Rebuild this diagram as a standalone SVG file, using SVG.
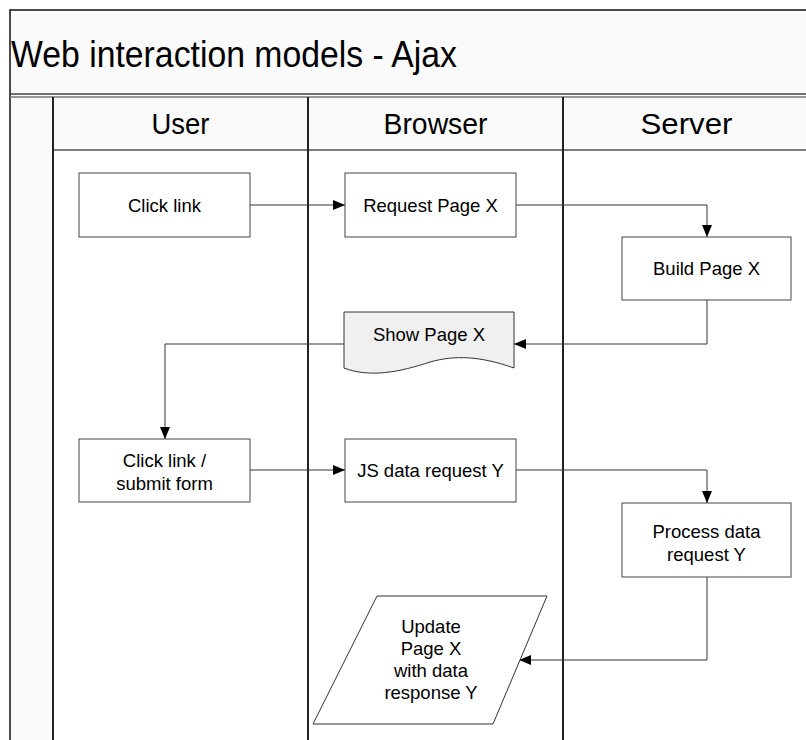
<svg xmlns="http://www.w3.org/2000/svg" width="806" height="740" viewBox="0 0 806 740">
<defs>
<marker id="arr" markerWidth="12" markerHeight="10" refX="12" refY="5" orient="auto" markerUnits="userSpaceOnUse">
<path d="M0,0 L12,5 L0,10 Z" fill="#000"/>
</marker>
<style>
.t{font-family:"Liberation Sans",Arial,sans-serif;fill:#000;text-anchor:middle}
.box{fill:#fff;stroke:#444;stroke-width:1}
.conn{fill:none;stroke:#333;stroke-width:1;marker-end:url(#arr)}
.lane{stroke:#222;stroke-width:2}
</style>
</defs>
<rect width="806" height="740" fill="#fff"/>
<g id="frame">
<rect x="10" y="10" width="806" height="740" fill="#fafafa" stroke="#111" stroke-width="1.5"/>
<rect x="53" y="150" width="763" height="600" fill="#fff"/>
<text x="11" y="67" font-family="Liberation Sans,Arial,sans-serif" font-size="37" textLength="446" lengthAdjust="spacingAndGlyphs">Web interaction models - Ajax</text>
<line x1="10" y1="94" x2="806" y2="94" stroke="#444" stroke-width="1.5"/>
<line x1="10" y1="97" x2="806" y2="97" stroke="#777" stroke-width="1.5"/>
<line x1="53" y1="150" x2="806" y2="150" stroke="#555" stroke-width="1.5"/>
<line class="lane" x1="53" y1="97" x2="53" y2="740"/>
<line class="lane" x1="308" y1="97" x2="308" y2="740"/>
<line class="lane" x1="563" y1="97" x2="563" y2="740"/>
<text class="t" x="180.5" y="134" font-size="29" textLength="58" lengthAdjust="spacingAndGlyphs">User</text>
<text class="t" x="435.5" y="134" font-size="29" textLength="104" lengthAdjust="spacingAndGlyphs">Browser</text>
<text class="t" x="686.5" y="134" font-size="29" textLength="92" lengthAdjust="spacingAndGlyphs">Server</text>
</g>
<g id="connectors">
<path class="conn" d="M250,205 H345"/>
<path class="conn" d="M516,205 H707 V237"/>
<path class="conn" d="M707,300 V344 H514"/>
<path class="conn" d="M344,344 H165 V439"/>
<path class="conn" d="M250,470 H345"/>
<path class="conn" d="M516,470 H707 V503"/>
<path class="conn" d="M707,577 V660 H519"/>
</g>
<g id="click-link">
<rect class="box" x="79" y="173" width="171" height="64"/>
<text class="t" x="164.5" y="211.5" font-size="18.5">Click link</text>
</g>
<g id="request-page">
<rect class="box" x="345" y="173" width="171" height="64"/>
<text class="t" x="430.5" y="211.5" font-size="18.5">Request Page X</text>
</g>
<g id="build-page">
<rect class="box" x="622" y="237" width="169" height="63"/>
<text class="t" x="706.5" y="275" font-size="18.5">Build Page X</text>
</g>
<g id="show-page">
<path d="M344,312 H514 V368 C480,356 455,355 430,362 C400,372 370,378 344,368 Z" fill="#f0f0f0" stroke="#333" stroke-width="1"/>
<text class="t" x="429" y="341" font-size="18.5">Show Page X</text>
</g>
<g id="click-submit">
<rect class="box" x="79" y="439" width="171" height="63"/>
<text class="t" x="164.5" y="467" font-size="18.5">Click link /</text>
<text class="t" x="164.5" y="490" font-size="18.5">submit form</text>
</g>
<g id="js-request">
<rect class="box" x="345" y="439" width="171" height="63"/>
<text class="t" x="430.5" y="477" font-size="18.5">JS data request Y</text>
</g>
<g id="process-request">
<rect class="box" x="622" y="503" width="169" height="74"/>
<text class="t" x="706.5" y="538" font-size="18.5">Process data</text>
<text class="t" x="706.5" y="561" font-size="18.5">request Y</text>
</g>
<g id="update-page">
<path d="M377,596 H547 L493,724 H313 Z" fill="#fff" stroke="#333" stroke-width="1"/>
<text class="t" x="431" y="633" font-size="18.5">Update</text>
<text class="t" x="431" y="655" font-size="18.5">Page X</text>
<text class="t" x="431" y="677" font-size="18.5">with data</text>
<text class="t" x="431" y="699" font-size="18.5">response Y</text>
</g>
</svg>
